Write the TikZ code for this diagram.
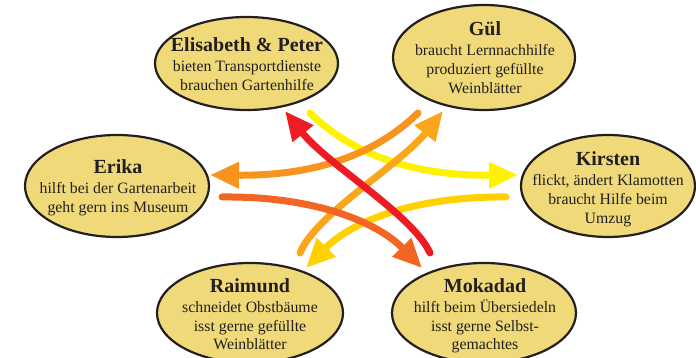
\documentclass[tikz,border=0pt]{standalone}
\usepackage{fontspec}
\setmainfont{Liberation Serif}
\usetikzlibrary{arrows.meta,shapes.geometric}
\definecolor{blobfill}{HTML}{F0D978}
\definecolor{ink}{HTML}{231F20}
\definecolor{cyellow}{HTML}{FFF200}
\definecolor{cyellowgold}{HTML}{FFD100}
\definecolor{cgold}{HTML}{FAA61A}
\definecolor{corange}{HTML}{F7941D}
\definecolor{cdarkorange}{HTML}{F26522}
\definecolor{cred}{HTML}{ED1C24}
\newcommand\hdr[1]{{\fontsize{20}{20}\selectfont\bfseries #1}}
\begin{document}
\begin{tikzpicture}[x=1pt,y=-1pt,
  blob/.style={ellipse,draw=ink,fill=blobfill,line width=2.2pt,inner sep=0pt},
  txt/.style={align=center,anchor=north,inner sep=0pt,text=ink,font=\fontsize{15.8}{18.7}\selectfont},
  arr/.style={line width=7pt,line cap=round,-{Triangle[length=29pt,width=25pt]}}]
\useasboundingbox (0,0) rectangle (696,358);
% ellipses
\node[blob,minimum width=183pt,minimum height=93pt] (ep) at (246.5,63.5) {};
\node[blob,minimum width=182pt,minimum height=105pt] (gul) at (484,57.5) {};
\node[blob,minimum width=184pt,minimum height=102pt] (erika) at (117,186) {};
\node[blob,minimum width=174pt,minimum height=102pt] (kirsten) at (608,186) {};
\node[blob,minimum width=186pt,minimum height=100pt] (raimund) at (250,313) {};
\node[blob,minimum width=184pt,minimum height=100pt] (mokadad) at (484,313) {};
% texts
\node[txt] (tep) at (247,37.8) {\hdr{Elisabeth \& Peter}\\[1.3pt]bieten Transportdienste\\brauchen Gartenhilfe};
\node[txt] (tgul) at (485,21.8) {\hdr{Gül}\\[1.3pt]braucht Lernnachhilfe\\produziert gefüllte\\Weinblätter};
\node[txt] (terika) at (118,159.5) {\hdr{Erika}\\[1.3pt]hilft bei der Gartenarbeit\\geht gern ins Museum};
\node[txt] (tkirsten) at (608,151.8) {\hdr{Kirsten}\\[1.3pt]flickt, ändert Klamotten\\braucht Hilfe beim\\Umzug};
\node[txt] (traimund) at (250,278.5) {\hdr{Raimund}\\[1.3pt]schneidet Obstbäume\\isst gerne gefüllte\\Weinblätter};
\node[txt] (tmokadad) at (485,278.5) {\hdr{Mokadad}\\[1.3pt]hilft beim Übersiedeln\\isst gerne Selbst-\\gemachtes};
% arrow end points
\coordinate (y0) at (310,113);  \coordinate (y1) at (518,175);
\coordinate (o0) at (418,113);  \coordinate (o1) at (210,175);
\coordinate (yg0) at (506,197); \coordinate (yg1) at (306,268);
\coordinate (d0) at (222,197);  \coordinate (d1) at (422,268);
\coordinate (g0) at (300,253);  \coordinate (g1) at (443,111);
\coordinate (r0) at (430,253);  \coordinate (r1) at (285,111);
% arrows
\draw[arr,cyellow] (y0) .. controls (348,150) and (405,176) .. (y1);
\draw[arr,cyellowgold] (yg0) .. controls (418,196) and (353,220) .. (yg1);
\draw[arr,cgold] (g0) .. controls (315,215) and (400,165) .. (g1);
\draw[arr,corange] (o0) .. controls (380,150) and (323,176) .. (o1);
\draw[arr,cdarkorange] (d0) .. controls (310,196) and (375,220) .. (d1);
\draw[arr,cred] (r0) .. controls (413,215) and (328,165) .. (r1);
\end{tikzpicture}
\end{document}
